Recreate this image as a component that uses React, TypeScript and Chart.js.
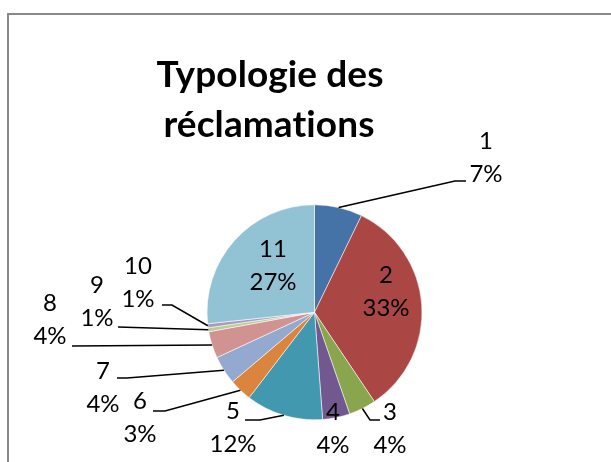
import React, { useEffect, useRef } from "react";
import { Chart, registerables } from "chart.js";

Chart.register(...registerables);

const TITLE_LINES = ["Typologie des", "réclamations"];
const CATEGORIES = ["1", "2", "3", "4", "5", "6", "7", "8", "9", "10", "11"];
const VALUES = [7.2, 33.4, 4.1, 4.1, 11.6, 3.4, 4.3, 4.0, 0.6, 0.6, 26.7];
const COLORS = [
  "#4572A7", "#AA4643", "#89A54E", "#71588F", "#4198AF", "#DB843D",
  "#93A9CF", "#D19392", "#B9CD96", "#A99BBD", "#92C3D4",
];

// label layout: text block centre relative to pie centre, and leader points (relative to pie centre)
const LABEL_TEXT_OFFSETS: [number, number][] = [
  [171.5, -154.8], [71.5, -20.8], [75.5, 116.2], [18.5, 116.2], [-81.5, 115.2],
  [-174.5, 105.7], [-211.5, 75.2], [-264.5, 7.7], [-217.5, -10.8], [-176.5, -29.8], [-41.5, -46.3],
];
const LEADERS: ([number, number][] | null)[] = [
  [[140.5, -131.3], [151.5, -131.3]],
  null,
  [[55.5, 107.7], [65.5, 107.7]],
  null,
  [[-54.5, 107.7], [-69.5, 107.7]],
  [[-149.5, 98.7], [-161.5, 98.7]],
  [[-187.5, 65.7], [-197.5, 65.7]],
  [[-242.5, 33.7]],
  [[-196.5, 14.7]],
  [[-142.5, -7.3], [-152.5, -7.3]],
  null,
];

const framePlugin = {
  id: "frame",
  beforeDraw(chart: any) {
    const ctx = chart.ctx;
    ctx.save();
    ctx.fillStyle = "#ffffff";
    ctx.fillRect(0, 0, chart.width, chart.height);
    ctx.strokeStyle = "#898989";
    ctx.lineWidth = 2;
    ctx.strokeRect(8, 14, chart.width + 50, chart.height + 50);
    ctx.restore();
  },
};

const labelPlugin = {
  id: "excelLabels",
  afterDraw(chart: any) {
    const ctx = chart.ctx;
    const meta = chart.getDatasetMeta(0);
    const data: number[] = chart.data.datasets[0].data;
    const total = data.reduce((a, b) => a + b, 0);
    ctx.save();
    // title
    ctx.fillStyle = "#000";
    ctx.textAlign = "center";
    ctx.textBaseline = "alphabetic";
    ctx.font = "bold 37px Lato";
    try { (ctx as any).letterSpacing = "0.1px"; } catch (e) {}
    ctx.fillText(TITLE_LINES[0], 270, 87);
    ctx.fillText(TITLE_LINES[1], 269, 137);
    try { (ctx as any).letterSpacing = "0px"; } catch (e) {}

    ctx.font = "24px Lato";
    ctx.textBaseline = "middle";
    ctx.strokeStyle = "#000";
    ctx.lineWidth = 1.5;
    meta.data.forEach((arc: any, i: number) => {
      const cx = arc.x;
      const cy = arc.y;
      const mid = (arc.startAngle + arc.endAngle) / 2;
      const r = arc.outerRadius;
      const lead = LEADERS[i];
      if (lead) {
        ctx.beginPath();
        ctx.moveTo(cx + Math.cos(mid) * r, cy + Math.sin(mid) * r);
        lead.forEach(([dx, dy]) => ctx.lineTo(cx + dx, cy + dy));
        ctx.stroke();
      }
      const [tx, ty] = LABEL_TEXT_OFFSETS[i];
      const pct = Math.round((data[i] / total) * 100) + "%";
      ctx.fillText(chart.data.labels[i], cx + tx, cy + ty - 16.5);
      ctx.fillText(pct, cx + tx, cy + ty + 16.5);
    });
    ctx.restore();
  },
};

export default function App() {
  const ref = useRef<HTMLCanvasElement>(null);
  useEffect(() => {
    if (!ref.current) return;
    const chart = new Chart(ref.current, {
      type: "pie",
      data: {
        labels: CATEGORIES,
        datasets: [
          {
            data: VALUES,
            backgroundColor: COLORS,
            borderColor: "rgba(255,255,255,0.55)",
            borderWidth: 1,
            hoverOffset: 0,
          },
        ],
      },
      options: {
        responsive: false,
        animation: false,
        devicePixelRatio: 1,
        layout: { padding: { left: 206.5, right: 188.5, top: 204.3, bottom: 41.7 } },
        plugins: {
          legend: { display: false },
          title: { display: false },
          tooltip: { enabled: false },
        },
      },
      plugins: [framePlugin, labelPlugin],
    });
    return () => chart.destroy();
  }, []);
  return (
    <div style={{ position: "fixed", left: 0, top: 0, width: 611, height: 462, background: "#fff" }}>
      <canvas ref={ref} width={611} height={462} style={{ display: "block" }} />
    </div>
  );
}
